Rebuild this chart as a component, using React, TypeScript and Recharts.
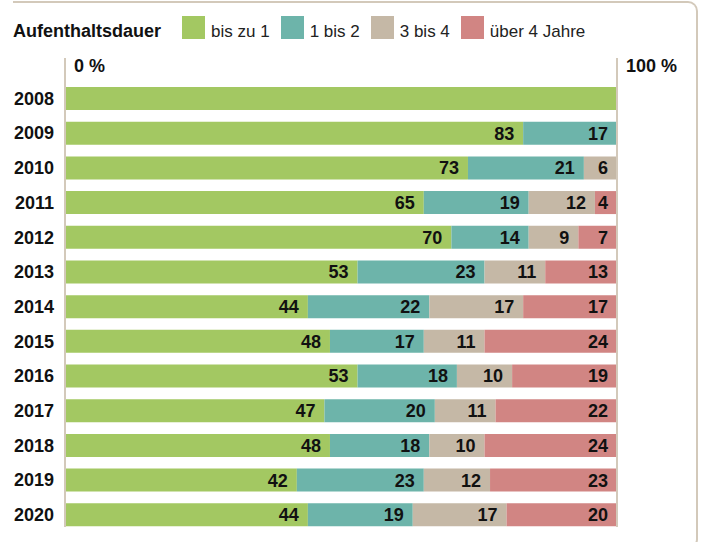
import React from 'react';
import { BarChart, Bar, XAxis, YAxis, Legend, LabelList, ReferenceLine } from 'recharts';

// Aufenthaltsdauer in Jahren, Anteile in %
const jahre = ['2008', '2009', '2010', '2011', '2012', '2013', '2014', '2015', '2016', '2017', '2018', '2019', '2020'];
const bisZu1 = [100, 83, 73, 65, 70, 53, 44, 48, 53, 47, 48, 42, 44];
const einsBis2 = [0, 17, 21, 19, 14, 23, 22, 17, 18, 20, 18, 23, 19];
const dreiBis4 = [0, 0, 6, 12, 9, 11, 17, 11, 10, 11, 10, 12, 17];
const ueber4 = [0, 0, 0, 4, 7, 13, 17, 24, 19, 22, 24, 23, 20];

const serien = [
  { key: 'a', name: 'bis zu 1', farbe: '#a3c862' },
  { key: 'b', name: '1 bis 2', farbe: '#6db4aa' },
  { key: 'c', name: '3 bis 4', farbe: '#c5b8a6' },
  { key: 'd', name: 'über 4 Jahre', farbe: '#d18583' },
];

const achsenTicks = [0, 100];

const daten = jahre.map((jahr, i) => ({
  jahr,
  a: bisZu1[i],
  b: einsBis2[i],
  c: dreiBis4[i],
  d: ueber4[i],
}));

const FONT = '"Liberation Sans", Arial, sans-serif';
const LINIE = '#d3c9ba';

const Legende = () => (
  <div style={{ display: 'flex', alignItems: 'flex-start', fontFamily: FONT, whiteSpace: 'nowrap', height: 27 }}>
    <span style={{ fontWeight: 700, fontSize: 18, lineHeight: '23px', marginTop: 4, marginRight: 21, color: '#111' }}>
      Aufenthaltsdauer
    </span>
    {serien.map((s) => (
      <React.Fragment key={s.key}>
        <span style={{ width: 23, height: 23, background: s.farbe, marginRight: 6, display: 'inline-block' }} />
        <span style={{ fontSize: 17, lineHeight: '23px', marginTop: 4, marginRight: 11, color: '#222' }}>{s.name}</span>
      </React.Fragment>
    ))}
  </div>
);

const ProzentTick = (props: any) => {
  const { x, y, payload } = props;
  return (
    <text x={x + 9} y={y + 14} fontSize={18} fontWeight={700} fill="#111" textAnchor="start">
      {payload.value} %
    </text>
  );
};

const zeigeWert = (v: any) => (v > 0 && v < 100 ? v : '');

export default function App() {
  return (
    <div style={{ position: 'absolute', left: 0, top: 0, width: 701, height: 542, overflow: 'hidden', background: '#fff' }}>
      <div
        style={{
          position: 'absolute',
          left: 13,
          top: 1,
          width: 685,
          height: 548,
          boxSizing: 'border-box',
          borderTop: `2px solid ${LINIE}`,
          borderRight: `2px solid ${LINIE}`,
          borderBottom: `2px solid ${LINIE}`,
          borderRadius: '0 10px 10px 0',
        }}
      />
      <BarChart
        width={701}
        height={542}
        data={daten}
        layout="vertical"
        margin={{ top: 11, right: 84, bottom: 15, left: 0 }}
        barSize={23}
        style={{ fontFamily: FONT }}
      >
        <XAxis
          type="number"
          orientation="top"
          domain={[0, 100]}
          ticks={achsenTicks}
          height={20}
          axisLine={false}
          tickLine={false}
          tickSize={0}
          tickMargin={0}
          tick={<ProzentTick />}
          allowDataOverflow
        />
        <YAxis
          type="category"
          dataKey="jahr"
          width={65}
          axisLine={false}
          tickLine={false}
          tickSize={0}
          tickMargin={11}
          padding={{ top: 23, bottom: -5 }}
          tick={{ fill: '#111', fontSize: 18, fontWeight: 700 }}
          interval={0}
        />
        <ReferenceLine x={0} stroke={LINIE} strokeWidth={2} />
        <ReferenceLine x={100} stroke={LINIE} strokeWidth={2} />
        <Legend
          layout="horizontal"
          align="left"
          verticalAlign="top"
          content={<Legende />}
          wrapperStyle={{ position: 'absolute', top: 16, left: 13, width: 600 }}
        />
        {serien.map((s) => (
          <Bar key={s.key} dataKey={s.key} name={s.name} stackId="x" fill={s.farbe} isAnimationActive={false}>
            <LabelList
              dataKey={s.key}
              position="insideRight"
              offset={9}
              formatter={zeigeWert}
              fill="#111"
              fontSize={18}
              fontWeight={700}
            />
          </Bar>
        ))}
      </BarChart>
    </div>
  );
}
